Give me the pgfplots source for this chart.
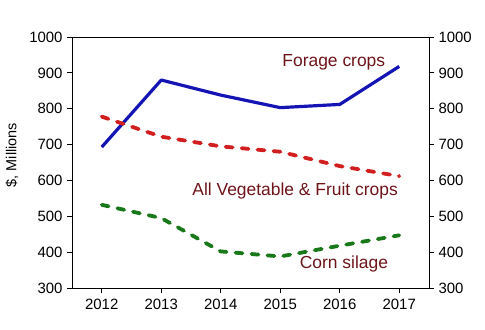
\documentclass[border=0pt]{standalone}
\usepackage{pgfplots}
\pgfplotsset{compat=1.18}
\usepackage{fontspec}
\setmainfont{Liberation Sans}
\definecolor{forage}{RGB}{20,20,180}
\definecolor{veg}{RGB}{210,30,30}
\definecolor{corn}{RGB}{25,120,25}
\definecolor{lab}{RGB}{110,20,25}
\begin{document}
\begin{tikzpicture}
\pgfplotsset{
  base/.style={
    scale only axis, width=357bp, height=251bp,
    at={(0,0)}, anchor=south west,
    xmin=2011.5, xmax=2017.5, ymin=300, ymax=1000,
    xtick={2012,...,2017}, ytick={300,400,...,1000},
    tick align=outside, major tick length=5bp,
    tick style={black, line width=0.8pt},
    axis line style={line width=0.8pt},
    /pgf/number format/assume math mode=true,
    /pgf/number format/1000 sep={},
    tick label style={font=\fontsize{15}{17}\selectfont},
    xticklabel style={yshift=-3bp},
  }
}
\useasboundingbox (-72bp,-42bp) rectangle (413bp,288bp);
\begin{axis}[base, xtick pos=bottom, ytick pos=left,
  ylabel={\$, Millions}, ylabel style={font=\fontsize{14.5}{16}\selectfont, at={(-60bp,133bp)}, anchor=center, rotate=0},
  yticklabel style={xshift=-1bp}]
  \addplot[forage, line width=3.2pt, line join=round] coordinates {(2012,693) (2013,880) (2014,838) (2015,803) (2016,812) (2017,918)};
  \addplot[veg, line width=3.8pt, line cap=round, dash pattern=on 7bp off 9bp] coordinates {(2012,778) (2013,722) (2014,695) (2015,680) (2016,640) (2017,612)};
  \addplot[corn, line width=3.8pt, line cap=round, dash pattern=on 7bp off 9bp] coordinates {(2012,532) (2013,495) (2014,402) (2015,388) (2016,418) (2017,447)};
  \node[lab, font=\fontsize{17.5}{19}\selectfont] at (axis cs:2015.9,930) {Forage crops};
  \node[lab, font=\fontsize{17.5}{19}\selectfont] at (axis cs:2015.25,571) {All Vegetable \& Fruit crops};
  \node[lab, font=\fontsize{17.5}{19}\selectfont] at (axis cs:2016.07,368) {Corn silage};
\end{axis}
\begin{axis}[base, axis x line=none, ytick pos=right, yticklabel pos=right,
  yticklabel style={xshift=1bp}]
\end{axis}
\end{tikzpicture}
\end{document}
